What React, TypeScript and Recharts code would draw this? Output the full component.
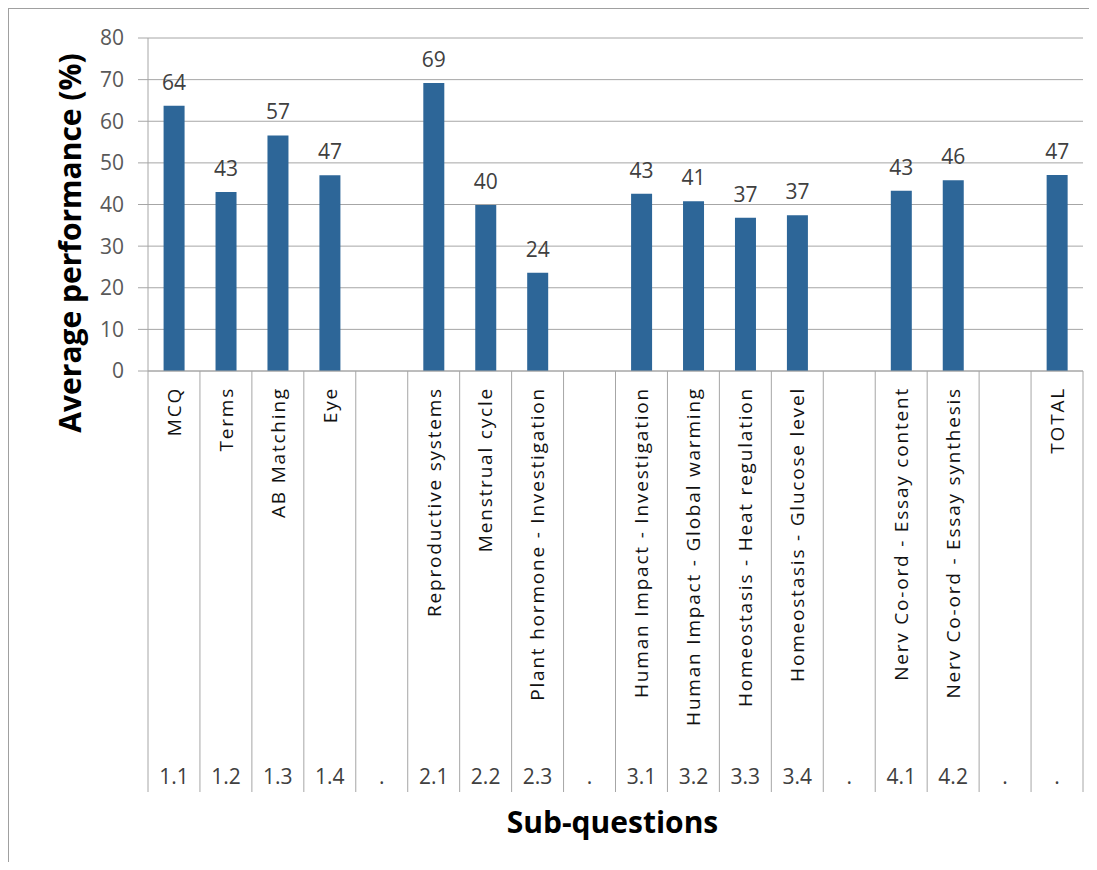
import React from 'react';
import { BarChart, Bar, XAxis, YAxis, CartesianGrid, LabelList } from 'recharts';

const codes = ['1.1', '1.2', '1.3', '1.4', '.', '2.1', '2.2', '2.3', '.', '3.1', '3.2', '3.3', '3.4', '.', '4.1', '4.2', '.', '.'];
const names = [
  'MCQ', 'Terms', 'AB Matching', 'Eye', '',
  'Reproductive systems', 'Menstrual cycle', 'Plant hormone - Investigation', '',
  'Human Impact - Investigation', 'Human Impact - Global warming', 'Homeostasis - Heat regulation', 'Homeostasis - Glucose level', '',
  'Nerv Co-ord - Essay content', 'Nerv Co-ord - Essay synthesis', '', 'TOTAL',
];
const values: (number | null)[] = [63.7, 43.0, 56.6, 47.0, null, 69.2, 39.9, 23.6, null, 42.6, 40.8, 36.8, 37.4, null, 43.3, 45.8, null, 47.1];
const yTicks = [0, 10, 20, 30, 40, 50, 60, 70, 80];

const data = values.map((v, i) => ({ idx: i, value: v }));

const FONT = '"Open Sans", "Noto Sans", sans-serif';
const GRID = '#a6a6a6';

const CategoryTick = (props: any) => {
  const { x, y, payload } = props;
  const i = Number(payload.value);
  const half = payload.offset || 26;
  const lineLen = 421;
  return (
    <g>
      <line x1={x - half} y1={y} x2={x - half} y2={y + lineLen} stroke={GRID} strokeWidth={1} />
      {i === names.length - 1 && (
        <line x1={x + half} y1={y} x2={x + half} y2={y + lineLen} stroke={GRID} strokeWidth={1} />
      )}
      {names[i] && (
        <text
          x={x}
          y={y + 16}
          dy="0.36em"
          transform={`rotate(-90, ${x}, ${y + 16})`}
          textAnchor="end"
          fontFamily={FONT}
          fontSize={19}
          letterSpacing={1.8}
          fill="#111"
        >
          {names[i]}
        </text>
      )}
      <text x={x} y={y + 413} textAnchor="middle" fontFamily={FONT} fontSize={21} fill="#404040">
        {codes[i]}
      </text>
    </g>
  );
};

const XTitle = (props: any) => {
  const vb = props.viewBox || { x: 140, y: 363, width: 935, height: 470 };
  return (
    <text x={vb.x + vb.width / 2 - 3} y={825} textAnchor="middle" fontFamily={FONT} fontWeight={700} fontSize={30} fill="#000">
      Sub-questions
    </text>
  );
};

const YTitle = () => (
  <text
    x={62}
    y={235}
    dy="0.35em"
    transform="rotate(-90, 62, 235)"
    textAnchor="middle"
    fontFamily={FONT}
    fontWeight={700}
    fontSize={30}
    fill="#000"
  >
    Average performance (%)
  </text>
);

export default function App() {
  return (
    <div style={{ position: 'relative', width: 1089, height: 854 }}>
      <div
        style={{
          position: 'absolute',
          left: -1,
          top: -1,
          width: 1100,
          height: 880,
          borderLeft: '2px solid #a0a0a0',
          borderTop: '2px solid #a0a0a0',
          pointerEvents: 'none',
        }}
      />
      <BarChart
        width={1089}
        height={854}
        data={data}
        margin={{ top: 30, right: 14, left: 80, bottom: 21 }}
        barCategoryGap="30%"
      >
        <CartesianGrid vertical={false} stroke={GRID} strokeWidth={1} />
        <XAxis
          dataKey="idx"
          type="category"
          height={470}
          interval={0}
          tickLine={false}
          tickSize={0}
          tickMargin={0}
          axisLine={{ stroke: GRID }}
          tick={<CategoryTick />}
          label={<XTitle />}
        />
        <YAxis
          width={60}
          domain={[0, 80]}
          ticks={yTicks}
          interval={0}
          tickSize={10}
          tickMargin={14}
          axisLine={{ stroke: GRID }}
          tickLine={{ stroke: GRID }}
          tick={{ fill: '#595959', fontFamily: FONT, fontSize: 21 }}
          label={<YTitle />}
        />
        <Bar dataKey="value" fill="#2D6698" isAnimationActive={false}>
          <LabelList
            dataKey="value"
            position="top"
            offset={16}
            formatter={(v: any) => (v == null ? '' : Math.round(Number(v)))}
            style={{ fill: '#404040', fontFamily: FONT, fontSize: 21 }}
          />
        </Bar>
      </BarChart>
    </div>
  );
}
